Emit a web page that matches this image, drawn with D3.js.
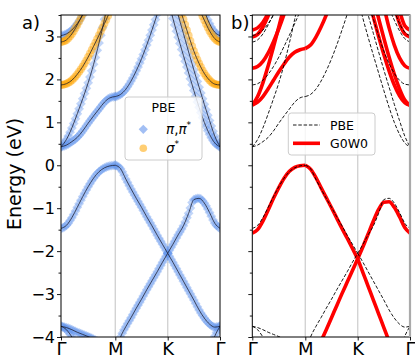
<!DOCTYPE html>
<html>
<head>
<meta charset="utf-8">
<script src="https://cdn.jsdelivr.net/npm/d3@7"></script>
<style>
  body { margin: 0; background: #fff; }
  svg { display: block; font-family: "DejaVu Sans", sans-serif; }
</style>
</head>
<body>
<svg id="chart" width="415" height="363"></svg>
<script>
// k path: Γ=0, M=1, K=2, Γ=3, one value every 0.1 of a segment
const kPoints = d3.range(31).map(i => i / 10);
const kTicks = [0, 1, 2, 3];
const kLabels = ["Γ", "M", "K", "Γ"];
const yTicks = [-4, -3, -2, -1, 0, 1, 2, 3];
const yMinor = [-3.5, -2.5, -1.5, -0.5, 0.5, 1.5, 2.5, 3.5];
const _ = null; // off the plotted window

// ---- PBE bands (eV) ----
const pbeV1  = [-1.47,-1.4,-1.22,-0.98,-0.73,-0.5,-0.3,-0.15,-0.06,-0.015,0, -0.08,-0.32,-0.55,-0.77,-0.98,-1.2,-1.41,-1.63,-1.84,-2.05, -1.84,-1.62,-1.41,-1.12,-0.8,-0.77,-0.88,-1.1,-1.35,-1.47];
const pbeV2  = [_,_,_,_,_,_,_,_,_,_,-4.35, -4.0,-3.76,-3.55,-3.33,-3.12,-2.9,-2.69,-2.48,-2.26,-2.05, -2.26,-2.48,-2.7,-2.92,-3.14,-3.37,-3.56,-3.7,-3.77,-3.75];
const pbeLo1 = [-3.75,-3.78,-3.83,-3.89,-3.94,-3.99,-4.05,-4.12,_,_,_, _,_,_,_,_,_,_,_,_,_, _,_,_,_,_,_,_,_,_,_];
const pbeLo2 = [-3.75,-3.83,-4.0,-4.22,_,_,_,_,_,_,_, _,_,_,_,_,_,_,_,_,_, _,_,_,_,_,_,_,_,_,_];
const pbeLo3 = [_,_,_,_,_,_,_,_,_,_,_, _,_,_,_,_,_,_,_,_,_, _,_,_,_,_,_,_,-4.3,-3.98,-3.75];
const pbeC1  = [0.43,0.47,0.55,0.65,0.8,0.98,1.15,1.31,1.47,1.57,1.6, 1.65,1.77,1.96,2.2,2.48,2.8,3.15,3.52,3.9,_, _,_,_,_,_,_,_,_,_,_];
const pbeC2  = [0.43,0.6,0.87,1.2,1.55,1.92,2.35,2.85,3.4,4.0,_, _,_,_,_,_,_,_,_,_,_, _,_,_,_,_,_,_,_,_,_];
const pbeS1  = [1.87,1.9,1.98,2.12,2.3,2.52,2.77,3.03,3.3,3.58,3.9, _,_,_,_,_,_,_,_,_,_, _,_,_,_,_,_,_,_,_,_];
const pbeS2  = [2.87,2.92,3.06,3.27,3.52,3.8,_,_,_,_,_, _,_,_,_,_,_,_,_,_,_, _,_,_,_,_,_,_,_,_,_];
const pbeB3  = [3.02,3.06,3.15,3.3,3.5,3.75,_,_,_,_,_, _,_,_,_,_,_,_,_,_,_, _,_,_,_,_,_,_,_,_,_];
const pbeA   = [_,_,_,_,_,_,_,_,_,_,_, _,_,_,_,_,_,_,_,_,3.9, 3.42,2.98,2.56,2.15,1.74,1.35,1.0,0.72,0.52,0.43];
const pbeB   = [_,_,_,_,_,_,_,_,_,_,_, _,_,_,_,_,_,_,_,_,_, 3.95,3.5,3.07,2.64,2.22,1.82,1.42,1.04,0.68,0.43];
const pbeS1r = [_,_,_,_,_,_,_,_,_,_,_, _,_,_,_,_,_,_,_,_,_, _,3.75,3.4,3.02,2.66,2.37,2.14,1.98,1.89,1.87];
const pbeS2r = [_,_,_,_,_,_,_,_,_,_,_, _,_,_,_,_,_,_,_,_,_, _,_,_,_,_,3.65,3.38,3.13,2.95,2.87];
const pbeB3r = [_,_,_,_,_,_,_,_,_,_,_, _,_,_,_,_,_,_,_,_,_, _,_,_,_,_,_,3.6,3.3,3.1,3.02];

// ---- G0W0 bands (eV) ----
const gwV1  = [-1.58,-1.5,-1.3,-1.04,-0.77,-0.52,-0.3,-0.14,-0.05,-0.01,0, -0.09,-0.28,-0.52,-0.755,-0.99,-1.23,-1.47,-1.7,-1.94,-2.18, -1.9,-1.6,-1.3,-1.03,-0.86,-0.85,-0.98,-1.2,-1.45,-1.58];
const gwV2  = [_,_,_,_,_,_,_,_,_,_,_, _,-4.38,-4.1,-3.83,-3.55,-3.27,-2.99,-2.72,-2.45,-2.18, -2.5,-2.82,-3.14,-3.46,-3.78,-4.1,_,_,_,_];
const gwC1  = [1.4,1.47,1.6,1.78,1.98,2.18,2.36,2.52,2.63,2.69,2.72, 2.8,2.98,3.22,3.5,3.82,_,_,_,_,_, _,_,_,_,_,_,_,_,_,_];
const gwC2  = [1.4,1.6,1.92,2.32,2.76,3.22,3.7,_,_,_,_, _,_,_,_,_,_,_,_,_,_, _,_,_,_,_,_,_,_,_,_];
const gwS1  = [2.26,2.3,2.42,2.62,2.88,3.18,3.52,3.9,_,_,_, _,_,_,_,_,_,_,_,_,_, _,_,_,_,_,_,_,_,_,_];
const gwS2  = [2.99,3.05,3.22,3.48,3.8,_,_,_,_,_,_, _,_,_,_,_,_,_,_,_,_, _,_,_,_,_,_,_,_,_,_];
const gwB3  = [3.15,3.2,3.33,3.55,3.85,_,_,_,_,_,_, _,_,_,_,_,_,_,_,_,_, _,_,_,_,_,_,_,_,_,_];
const gwA   = [_,_,_,_,_,_,_,_,_,_,_, _,_,_,_,_,_,_,_,_,_, _,3.9,3.45,3.0,2.58,2.2,1.87,1.62,1.46,1.4];
const gwB   = [_,_,_,_,_,_,_,_,_,_,_, _,_,_,_,_,_,_,_,_,_, _,_,3.9,3.42,2.96,2.52,2.12,1.78,1.52,1.4];
const gwS1r = [_,_,_,_,_,_,_,_,_,_,_, _,_,_,_,_,_,_,_,_,_, _,_,_,_,3.7,3.2,2.8,2.5,2.32,2.26];
const gwS2r = [_,_,_,_,_,_,_,_,_,_,_, _,_,_,_,_,_,_,_,_,_, _,_,_,_,_,_,3.7,3.3,3.06,2.99];
const gwB3r = [_,_,_,_,_,_,_,_,_,_,_, _,_,_,_,_,_,_,_,_,_, _,_,_,_,_,_,_,3.6,3.25,3.15];

const piBands = [pbeV1, pbeV2, pbeLo1, pbeLo2, pbeLo3, pbeC1, pbeC2, pbeB3, pbeA, pbeB, pbeB3r];
const sigmaBands = [pbeS1, pbeS2, pbeS1r, pbeS2r];
const pbeBands = piBands.concat(sigmaBands);
const gwBands = [gwV1, gwV2, gwC1, gwC2, gwS1, gwS2, gwB3, gwA, gwB, gwS1r, gwS2r, gwB3r];

const svg = d3.select("#chart");
const yTop = 15, yBot = 337;
const xA = d3.scaleLinear().domain(kTicks).range([61, 115.3, 167.7, 220]);
const xB = d3.scaleLinear().domain(kTicks).range([252.3, 305.3, 357.7, 410]);
const y = d3.scaleLinear().domain([-4, 3.5]).range([yBot, yTop]);

const blue = "#6495ed", orange = "#ffa500";

// split a band into its three path segments (kinks allowed at M and K)
function segments(vals) {
    const out = [];
    for (let s = 0; s < 3; s++) {
        const pts = [];
        for (let i = s * 10; i <= s * 10 + 10; i++) {
            if (vals[i] !== null) pts.push([kPoints[i], vals[i]]);
        }
        if (pts.length > 1) out.push(pts);
    }
    return out;
}

function makePanel(id, x) {
    const x0 = x.range()[0], x1 = x.range()[3];
    svg.append("clipPath").attr("id", "clip-" + id)
        .append("rect").attr("x", x0).attr("y", yTop).attr("width", x1 - x0).attr("height", yBot - yTop);
    const g = svg.append("g");
    g.selectAll(".vgrid").data([1, 2]).enter().append("line")
        .attr("x1", d => x(d)).attr("x2", d => x(d))
        .attr("y1", yTop).attr("y2", yBot)
        .attr("stroke", "#d3d3d3").attr("stroke-width", 1.4);
    const plot = g.append("g").attr("clip-path", "url(#clip-" + id + ")");
    return { g, plot, x0, x1 };
}

function frame(p, x, labels) {
    // minor + major y ticks
    const minor = d3.axisLeft(y).tickValues(yMinor).tickSize(2.5).tickFormat("");
    const major = d3.axisLeft(y).tickValues(yTicks).tickSize(4).tickPadding(2)
        .tickFormat(labels ? d3.format("d") : "");
    [minor, major].forEach(ax => {
        const a = p.g.append("g").attr("transform", `translate(${p.x0},0)`).call(ax);
        a.select(".domain").remove();
        a.selectAll("text").attr("font-size", 16).attr("fill", "#000")
            .attr("font-family", "DejaVu Sans, sans-serif");
        a.selectAll("line").attr("stroke", "#000").attr("stroke-width", 0.9);
    });
    const xa = p.g.append("g").attr("transform", `translate(0,${yBot})`)
        .call(d3.axisBottom(x).tickValues(kTicks).tickSize(3.5).tickPadding(1.5)
            .tickFormat((d, i) => kLabels[i]));
    xa.select(".domain").remove();
    xa.selectAll("text").attr("font-size", 18).attr("fill", "#000")
        .attr("font-family", "DejaVu Sans, sans-serif");
    xa.selectAll("line").attr("stroke", "#000").attr("stroke-width", 0.9);
    p.g.append("rect").attr("x", p.x0).attr("y", yTop)
        .attr("width", p.x1 - p.x0).attr("height", yBot - yTop)
        .attr("fill", "none").attr("stroke", "#000").attr("stroke-width", 1);
}

const line = x => d3.line().x(d => x(d[0])).y(d => y(d[1])).curve(d3.curveMonotoneX);
const diamond = r => `M0,${-r}L${r},0L0,${r}L${-r},0Z`;

// ---------------- panel a ----------------
const pa = makePanel("a", xA);
const markG = pa.plot.append("g");
const lineG = pa.plot.append("g");

function fatBand(vals, kind) {
    segments(vals).forEach(pts => {
        const path = lineG.append("path").datum(pts)
            .attr("d", line(xA)).attr("fill", "none")
            .attr("stroke", "#1a1a2a").attr("stroke-width", 0.75);
        const node = path.node(), total = node.getTotalLength();
        const k0 = pts[0][0], k1 = pts[pts.length - 1][0];
        for (let k = k0; k <= k1 + 1e-9; k += 1 / 30) {
            const tx = xA(k);
            let lo = 0, hi = total;
            for (let it = 0; it < 28; it++) {
                const mid = (lo + hi) / 2;
                if (node.getPointAtLength(mid).x < tx) lo = mid; else hi = mid;
            }
            const p = node.getPointAtLength((lo + hi) / 2);
            if (p.y < yTop - 6 || p.y > yBot + 6) continue;
            if (kind === "pi") {
                markG.append("path").attr("d", diamond(4.9))
                    .attr("transform", `translate(${p.x},${p.y})`)
                    .attr("fill", blue).attr("fill-opacity", 0.4);
            } else {
                markG.append("circle").attr("cx", p.x).attr("cy", p.y).attr("r", 4)
                    .attr("fill", orange).attr("fill-opacity", 0.45);
            }
        }
    });
}
piBands.forEach(b => fatBand(b, "pi"));
sigmaBands.forEach(b => fatBand(b, "sigma"));
frame(pa, xA, true);

// legend a
const la = svg.append("g");
la.append("rect").attr("x", 125).attr("y", 97).attr("width", 77).attr("height", 63).attr("rx", 3)
    .attr("fill", "#fff").attr("fill-opacity", 0.8).attr("stroke", "#ccc");
la.append("text").attr("x", 163.5).attr("y", 111.5).attr("text-anchor", "middle")
    .attr("font-size", 12.5).text("PBE");
la.append("path").attr("d", diamond(4.6)).attr("transform", "translate(143.3,129.3)")
    .attr("fill", blue).attr("fill-opacity", 0.6);
la.append("circle").attr("cx", 143.3).attr("cy", 148.3).attr("r", 3.8)
    .attr("fill", orange).attr("fill-opacity", 0.55);
const t1 = la.append("text").attr("x", 166).attr("y", 134).attr("font-size", 13.5);
t1.append("tspan").attr("font-style", "italic").text("π");
t1.append("tspan").text(",");
t1.append("tspan").attr("font-style", "italic").text("π");
t1.append("tspan").attr("font-size", 9).attr("dy", -6).text("*");
const t2 = la.append("text").attr("x", 166).attr("y", 153).attr("font-size", 13.5);
t2.append("tspan").attr("font-style", "italic").text("σ");
t2.append("tspan").attr("font-size", 9).attr("dy", -6).text("*");

// ---------------- panel b ----------------
const pb = makePanel("b", xB);
gwBands.forEach(vals => segments(vals).forEach(pts => {
    pb.plot.append("path").datum(pts).attr("d", line(xB)).attr("fill", "none")
        .attr("stroke", "#ff0000").attr("stroke-width", 3.6);
}));
pbeBands.forEach(vals => segments(vals).forEach(pts => {
    pb.plot.append("path").datum(pts).attr("d", line(xB)).attr("fill", "none")
        .attr("stroke", "#000").attr("stroke-width", 0.9).attr("stroke-dasharray", "3.5,1.8");
}));
frame(pb, xB, false);
pb.g.append("line").attr("x1", pb.x1).attr("x2", pb.x1).attr("y1", yTop).attr("y2", yBot)
    .attr("stroke", "#aaa").attr("stroke-width", 2.2);

// legend b
const lb = svg.append("g");
lb.append("rect").attr("x", 288.3).attr("y", 113).attr("width", 86.7).attr("height", 42).attr("rx", 3)
    .attr("fill", "#fff").attr("fill-opacity", 0.8).attr("stroke", "#ccc");
lb.append("line").attr("x1", 293).attr("x2", 320).attr("y1", 125).attr("y2", 125)
    .attr("stroke", "#000").attr("stroke-width", 0.9).attr("stroke-dasharray", "3.5,1.8");
lb.append("line").attr("x1", 293).attr("x2", 320).attr("y1", 143.3).attr("y2", 143.3)
    .attr("stroke", "#ff0000").attr("stroke-width", 3.6);
lb.append("text").attr("x", 330).attr("y", 129.5).attr("font-size", 12.5).text("PBE");
lb.append("text").attr("x", 330).attr("y", 147.8).attr("font-size", 12.5).text("G0W0");

// labels
svg.append("text").attr("x", 22).attr("y", 29).attr("font-size", 18).text("a)");
svg.append("text").attr("x", 231).attr("y", 29).attr("font-size", 18).text("b)");
svg.append("text").attr("transform", "translate(21,174) rotate(-90)")
    .attr("text-anchor", "middle").attr("font-size", 19).text("Energy (eV)");
</script>
</body>
</html>
